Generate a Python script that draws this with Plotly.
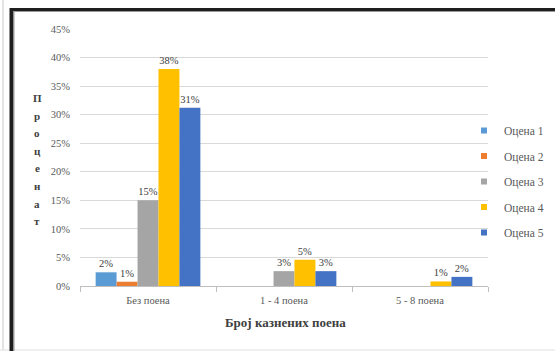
import plotly.graph_objects as go

# Number of penalty points (categories) and share of students per grade
categories = ["Без поена", "1 - 4 поена", "5 - 8 поена"]
series_names = ["Оцена 1", "Оцена 2", "Оцена 3", "Оцена 4", "Оцена 5"]
grade1 = [0.024, None, None]
grade2 = [0.0075, None, None]
grade3 = [0.150, 0.026, None]
grade4 = [0.380, 0.046, 0.008]
grade5 = [0.312, 0.026, 0.016]
series_values = [grade1, grade2, grade3, grade4, grade5]
colors = ["#5B9BD5", "#ED7D31", "#A5A5A5", "#FFC000", "#4472C4"]

y_title = "Проценат"
x_title = "Број казнених поена"

W, H = 555, 351
L, R, T, B = 80, 488, 29, 286  # plot area in pixels
SERIF = "Liberation Serif"


def px_x(p):
    return (p - L) / (R - L)


def px_y(p):
    return (B - p) / (B - T)


fig = go.Figure()
for name, vals, col in zip(series_names, series_values, colors):
    fig.add_trace(go.Bar(
        x=categories, y=vals, name=name, marker_color=col,
        marker_line_width=0,
        texttemplate="%{y:.0%}", textposition="outside",
        textfont=dict(family=SERIF, size=10.5, color="#404040"),
        cliponaxis=False, showlegend=False,
    ))
    # compact square legend entry
    fig.add_trace(go.Scatter(
        x=[None], y=[None], mode="markers", name=name,
        marker=dict(symbol="square", size=6, color=col),
        legendgroup=name,
    ))

fig.update_layout(
    width=W, height=H,
    margin=dict(l=L, r=W - R, t=T, b=H - B, autoexpand=False),
    paper_bgcolor="white", plot_bgcolor="white",
    barmode="group", bargap=0.23, bargroupgap=0,
    font=dict(family=SERIF, size=10.5, color="#595959"),
    legend=dict(
        x=px_x(464), y=px_y(116), xanchor="left", yanchor="top",
        font=dict(family=SERIF, size=11.5, color="#595959"),
        itemwidth=30, tracegroupgap=6.5, bgcolor="rgba(0,0,0,0)",
    ),
    xaxis=dict(
        showline=True, linecolor="#BFBFBF", linewidth=1,
        ticks="outside", tickson="boundaries", ticklen=5, tickcolor="#BFBFBF",
        ticklabelstandoff=4,
        tickfont=dict(family=SERIF, size=10.5, color="#595959"),
        showgrid=False,
    ),
    yaxis=dict(
        range=[0, 0.45], dtick=0.05, tickformat=".0%",
        showgrid=True, gridcolor="#D9D9D9", gridwidth=1,
        zeroline=False, showline=False,
        ticks="outside", ticklen=7, tickcolor="rgba(0,0,0,0)",
        tickfont=dict(family=SERIF, size=10.5, color="#595959"),
    ),
)

# axis titles
fig.add_annotation(
    x=px_x(285), y=px_y(322), xref="paper", yref="paper",
    xanchor="center", yanchor="middle",
    text="<b>" + x_title + "</b>", showarrow=False,
    font=dict(family=SERIF, size=13, color="#404040"),
)
for i, ch in enumerate(y_title):
    fig.add_annotation(
        x=px_x(37), y=px_y(98 + i * 17.6), xref="paper", yref="paper",
        xanchor="center", yanchor="middle",
        text="<b>" + ch + "</b>", showarrow=False,
        font=dict(family=SERIF, size=11, color="#404040"),
    )

# surrounding frame
frame = [
    dict(x0=3, y0=0, x1=3, y1=350, color="#C8C8C8", w=1),
    dict(x0=0, y0=350, x1=555, y1=350, color="#E0E0E0", w=1),
    dict(x0=11.5, y0=8, x1=11.5, y1=351, color="#1E1E1E", w=4),
    dict(x0=10, y0=9.5, x1=555, y1=9.5, color="#1E1E1E", w=3),
    dict(x0=13.5, y0=11.5, x1=555, y1=11.5, color="#9A9A9A", w=1),
    dict(x0=14, y0=11, x1=14, y1=351, color="#9A9A9A", w=1),
]
for f in frame:
    fig.add_shape(
        type="line", xref="paper", yref="paper",
        x0=px_x(f["x0"]), x1=px_x(f["x1"]), y0=px_y(f["y0"]), y1=px_y(f["y1"]),
        line=dict(color=f["color"], width=f["w"]),
    )

fig.write_html("out.html")
